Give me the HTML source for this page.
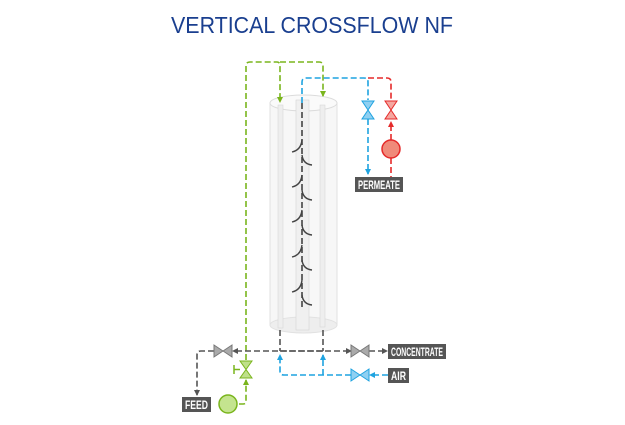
<!DOCTYPE html>
<html><head><style>body{margin:0;background:#fff}svg{display:block}</style></head><body>
<svg width="625" height="425" viewBox="0 0 625 425" xmlns="http://www.w3.org/2000/svg" font-family="Liberation Sans, sans-serif">
<defs>
<marker id="ag" viewBox="0 0 6 6" refX="5" refY="3" markerUnits="userSpaceOnUse" markerWidth="6" markerHeight="6" orient="auto"><path d="M0,0L6,3L0,6z" fill="#7ab51d"/></marker>
<marker id="ab" viewBox="0 0 6 6" refX="5" refY="3" markerUnits="userSpaceOnUse" markerWidth="6" markerHeight="6" orient="auto"><path d="M0,0L6,3L0,6z" fill="#1fa3e0"/></marker>
<marker id="ar" viewBox="0 0 6 6" refX="5" refY="3" markerUnits="userSpaceOnUse" markerWidth="6" markerHeight="6" orient="auto"><path d="M0,0L6,3L0,6z" fill="#e52a2a"/></marker>
<marker id="ak" viewBox="0 0 6 6" refX="5" refY="3" markerUnits="userSpaceOnUse" markerWidth="6" markerHeight="6" orient="auto"><path d="M0,0L6,3L0,6z" fill="#555"/></marker>
</defs>
<text x="312" y="33" text-anchor="middle" font-size="23" fill="#1a3f8f" textLength="282" lengthAdjust="spacingAndGlyphs">VERTICAL CROSSFLOW NF</text>
<rect x="270" y="103" width="67" height="222" fill="#f7f7f7" stroke="#e2e2e2"/>
<ellipse cx="303.5" cy="325" rx="33.5" ry="8" fill="#eeeeee" stroke="#e2e2e2"/>
<ellipse cx="303.5" cy="103" rx="33.5" ry="8" fill="#fafafa" stroke="#dcdcdc"/>
<rect x="278" y="105" width="5" height="223" fill="#eeeeee" stroke="#d8d8d8" stroke-width="0.6"/>
<rect x="320" y="105" width="5" height="222" fill="#eeeeee" stroke="#d8d8d8" stroke-width="0.6"/>
<rect x="296" y="100" width="13" height="230" fill="#f0f0f0" stroke="#d5d5d5" stroke-width="0.6"/>
<g fill="none" stroke-width="1.6" stroke-dasharray="6,3">
<path d="M302,103V310" stroke="#444"/>
<path d="M230,404H243Q246,404 246,401V380" stroke="#7ab51d" marker-end="url(#ag)"/>
<path d="M246,360V66Q246,62 250,62H277Q280,62 280,66V102" stroke="#7ab51d" marker-end="url(#ag)"/>
<path d="M280,62H319Q323,62 323,66V96" stroke="#7ab51d" marker-end="url(#ag)"/>
<path d="M302,103V82Q302,78 306,78H364Q368,78 368,82V100" stroke="#1fa3e0"/>
<path d="M368,119V174" stroke="#1fa3e0" marker-end="url(#ab)"/>
<path d="M368,78H387Q391,78 391,82V100" stroke="#e52a2a"/>
<path d="M391,140V122" stroke="#e52a2a" marker-end="url(#ar)"/>
<path d="M391,158V177" stroke="#e52a2a"/>
<path d="M280,330V351M323,330V351" stroke="#555"/>
<path d="M323,351H233" stroke="#555" marker-end="url(#ak)"/>
<path d="M214,351H201Q197,351 197,355V395" stroke="#555" marker-end="url(#ak)"/>
<path d="M280,351H351" stroke="#555" marker-end="url(#ak)"/>
<path d="M369,351H387" stroke="#555" marker-end="url(#ak)"/>
<path d="M388,375H370" stroke="#1fa3e0" marker-end="url(#ab)"/>
<path d="M351,375H284Q280,375 280,371V355" stroke="#1fa3e0" marker-end="url(#ab)"/>
<path d="M323,375V355" stroke="#1fa3e0" marker-end="url(#ab)"/>
</g>
<g fill="none" stroke="#444" stroke-width="1.4">
<path d="M302,140Q301,150 292,152M302,155Q303,164 312,165"/>
<path d="M302,175Q301,185 292,187M302,190Q303,199 312,200"/>
<path d="M302,210Q301,220 292,222M302,225Q303,234 312,235"/>
<path d="M302,245Q301,255 292,257M302,260Q303,269 312,270"/>
<path d="M302,280Q301,290 292,292M302,295Q303,304 312,305"/>
</g>
<g stroke-width="1">
<path d="M362,101L374,101L362,119L374,119z" fill="#8fd0f2" stroke="#1fa3e0"/>
<path d="M385,101L397,101L385,119L397,119z" fill="#f5a7a0" stroke="#e52a2a"/>
<circle cx="391" cy="149" r="9" fill="#f08a7a" stroke="#e52a2a" stroke-width="1.5"/>
<path d="M214,345L214,357L232,345L232,357z" fill="#aaa" stroke="#777"/>
<path d="M351,345L351,357L369,345L369,357z" fill="#aaa" stroke="#777"/>
<path d="M351,369L351,381L369,369L369,381z" fill="#8fd0f2" stroke="#1fa3e0"/>
<path d="M240,361L252,361L240,378L252,378z" fill="#bfe08a" stroke="#7ab51d"/>
<path d="M240,369.5H234M234,365V374" stroke="#7ab51d" stroke-width="1.5" fill="none"/>
<circle cx="228" cy="404" r="9" fill="#c4e48f" stroke="#7ab51d" stroke-width="1.5"/>
</g>
<g font-size="12" font-weight="bold" fill="#fff">
<rect x="355" y="177" width="48" height="15" fill="#555"/><text x="358" y="189" textLength="42" lengthAdjust="spacingAndGlyphs">PERMEATE</text>
<rect x="388" y="344" width="58" height="15" fill="#555"/><text x="391" y="356" textLength="52" lengthAdjust="spacingAndGlyphs">CONCENTRATE</text>
<rect x="388" y="368" width="21" height="15" fill="#555"/><text x="391" y="380" textLength="15" lengthAdjust="spacingAndGlyphs">AIR</text>
<rect x="182" y="397" width="29" height="15" fill="#555"/><text x="185" y="409" textLength="23" lengthAdjust="spacingAndGlyphs">FEED</text>
</g>
</svg>
</body></html>
